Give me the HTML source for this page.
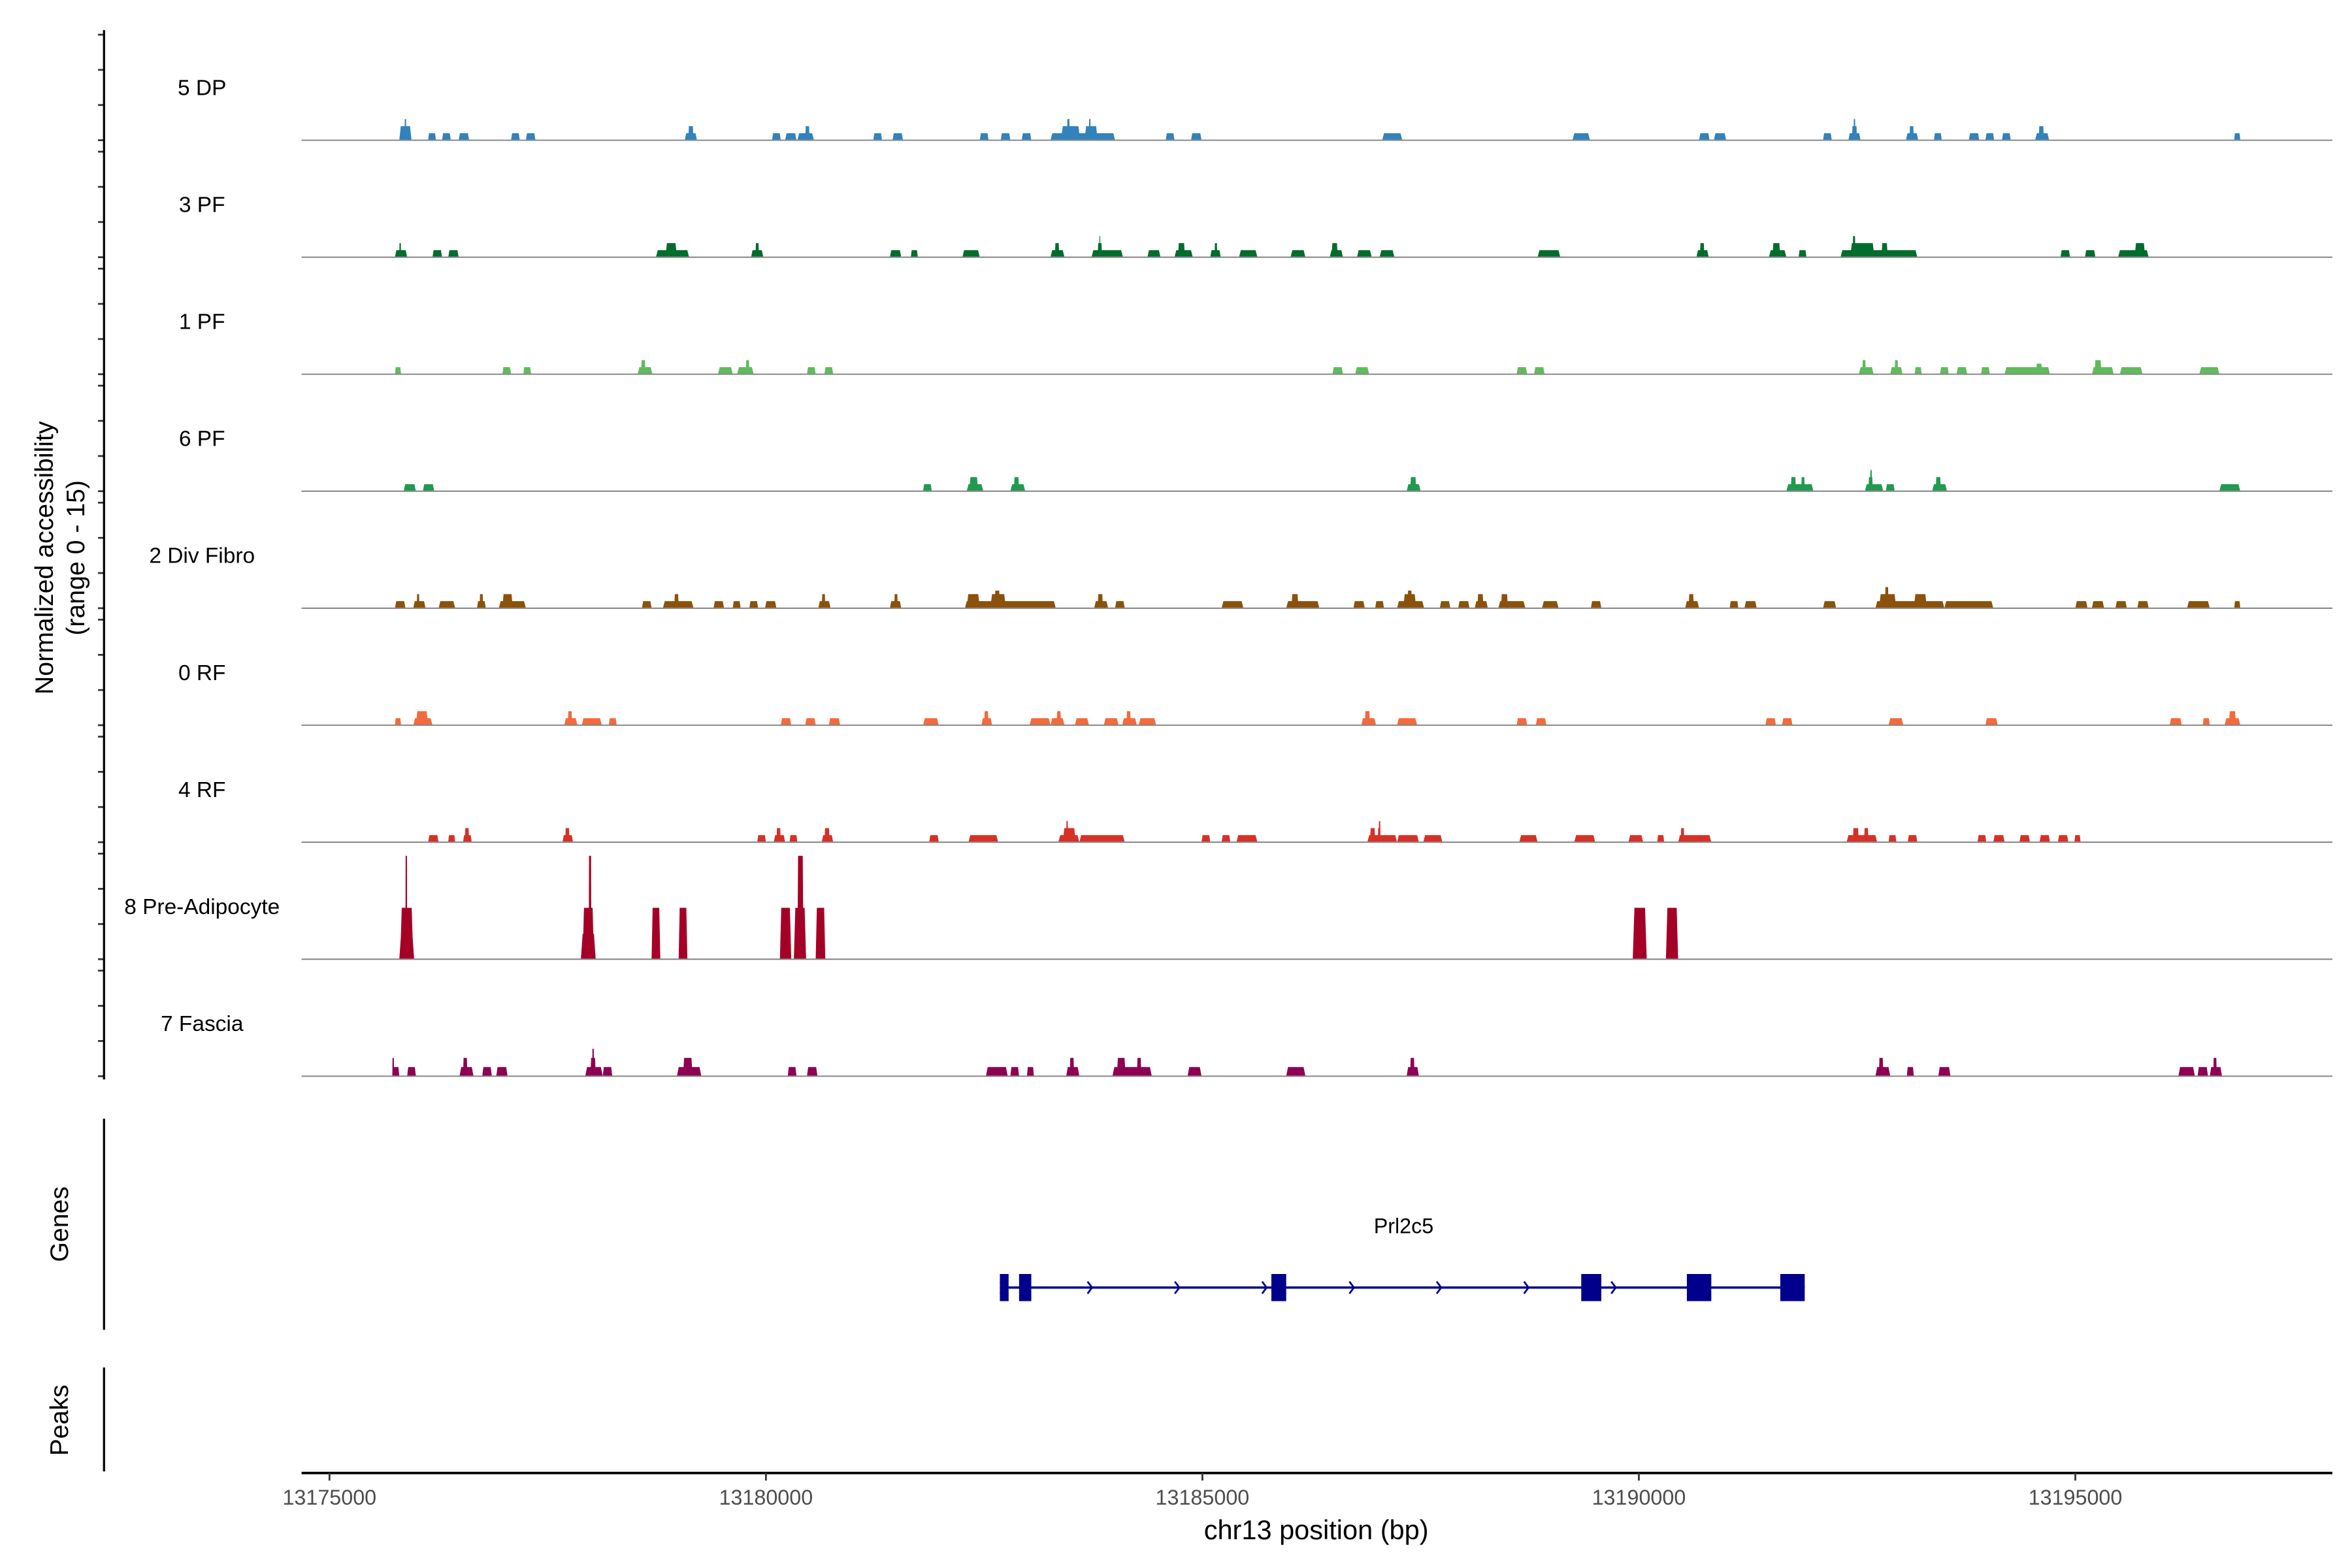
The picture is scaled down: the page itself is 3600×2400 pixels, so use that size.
<!DOCTYPE html>
<html><head><meta charset="utf-8"><style>
html,body{margin:0;padding:0;background:#fff;}
svg{display:block;font-family:"Liberation Sans",Arial,sans-serif;}
</style></head><body>
<svg id="chart" width="3600" height="2400" viewBox="0 0 1560 1040" xmlns="http://www.w3.org/2000/svg">
<g id="tracks"></g>
<g id="yaxis"></g>
<text transform="translate(35,370) rotate(-90)" text-anchor="middle" font-size="17" fill="#000">Normalized accessibility</text>
<text transform="translate(56,370) rotate(-90)" text-anchor="middle" font-size="17" fill="#000">(range 0 - 15)</text>
<line x1="69" y1="742" x2="69" y2="882" stroke="#000" stroke-width="1.4"/>
<text transform="translate(45,812) rotate(-90)" text-anchor="middle" font-size="17">Genes</text>
<line x1="69" y1="907" x2="69" y2="976" stroke="#000" stroke-width="1.4"/>
<text transform="translate(45,942) rotate(-90)" text-anchor="middle" font-size="17">Peaks</text>
<g id="gene"></g>
<g id="xaxis"></g>
<text x="873" y="1021" text-anchor="middle" font-size="18">chr13 position (bp)</text>
</svg>
<script>
// positions in kb relative to 13175000 bp
const domainKb = [-0.32, 22.945];
const tickKb = [0, 5, 10, 15, 20];
const tickLabels = ["13175000", "13180000", "13185000", "13190000", "13195000"];
const trackNames = ["5 DP","3 PF","1 PF","6 PF","2 Div Fibro","0 RF","4 RF","8 Pre-Adipocyte","7 Fascia"];
const trackColors = ["#3182bd","#006d2c","#5fbb5c","#1f9a4e","#8c510a","#f26b3c","#d73027","#a50026","#8e0152"];
const peaksDP = [[0.80,0.94,2],[0.86,0.88,3],[1.13,1.22,1],[1.29,1.39,1],[1.48,1.60,1],[2.08,2.18,1],[2.25,2.36,1],[4.07,4.21,1],[4.11,4.17,2],[5.07,5.17,1],[5.22,5.35,1],[5.36,5.55,1],[5.45,5.50,2],[6.23,6.33,1],[6.45,6.57,1],[7.45,7.55,1],[7.69,7.80,1],[7.93,8.04,1],[8.26,9.00,1],[8.38,8.60,2],[8.45,8.48,3],[8.65,8.80,2],[8.70,8.72,3],[9.58,9.68,1],[9.87,9.99,1],[12.06,12.29,1],[14.24,14.44,1],[15.69,15.81,1],[15.86,16.00,1],[17.11,17.21,1],[17.40,17.54,1],[17.44,17.50,2],[17.46,17.48,3],[18.06,18.20,1],[18.10,18.15,2],[18.38,18.47,1],[18.78,18.90,1],[18.97,19.07,1],[19.16,19.26,1],[19.54,19.70,1],[19.58,19.64,2],[21.82,21.89,1]];
const peaks3PF = [[0.75,0.89,1],[0.80,0.82,2],[1.18,1.29,1],[1.36,1.48,1],[3.74,4.12,1],[3.85,3.98,2],[4.83,4.97,1],[4.88,4.92,2],[6.42,6.55,1],[6.66,6.74,1],[7.25,7.45,1],[8.26,8.42,1],[8.31,8.36,2],[8.73,9.09,1],[8.80,8.85,2],[8.82,8.83,3],[9.37,9.52,1],[9.68,9.89,1],[9.72,9.80,2],[10.09,10.21,1],[10.14,10.17,2],[10.42,10.63,1],[11.01,11.18,1],[11.46,11.61,1],[11.48,11.55,2],[11.77,11.94,1],[12.03,12.20,1],[13.84,14.10,1],[15.66,15.80,1],[15.70,15.75,2],[16.49,16.69,1],[16.53,16.62,2],[16.83,16.92,1],[17.31,18.19,1],[17.42,17.70,2],[17.45,17.48,3],[17.78,17.85,2],[19.83,19.94,1],[20.11,20.23,1],[20.49,20.84,1],[20.68,20.80,2]];
const peaks1PF = [[0.75,0.82,1],[1.98,2.08,1],[2.22,2.31,1],[3.53,3.70,1],[3.57,3.62,2],[4.45,4.62,1],[4.67,4.86,1],[4.77,4.81,2],[5.47,5.57,1],[5.67,5.77,1],[11.49,11.61,1],[11.75,11.91,1],[13.60,13.72,1],[13.80,13.92,1],[17.52,17.69,1],[17.56,17.60,2],[17.88,18.02,1],[17.93,17.97,2],[18.16,18.24,1],[18.45,18.55,1],[18.64,18.76,1],[18.92,19.02,1],[19.19,19.71,1],[19.55,19.62,1.5],[20.19,20.44,1],[20.22,20.30,2],[20.51,20.77,1],[21.42,21.65,1]];
const peaks6PF = [[0.85,0.99,1],[1.07,1.20,1],[6.80,6.90,1],[7.30,7.49,1],[7.33,7.43,2],[7.80,7.97,1],[7.84,7.90,2],[12.34,12.50,1],[12.38,12.45,2],[16.69,17.00,1],[16.74,16.80,2],[16.86,16.90,2],[17.59,17.80,1],[17.63,17.68,2],[17.65,17.67,3],[17.83,17.93,1],[18.36,18.53,1],[18.40,18.46,2],[21.65,21.89,1]];
const peaksDiv = [[0.75,0.87,1],[0.96,1.10,1],[1.00,1.03,2],[1.25,1.44,1],[1.69,1.79,1],[1.72,1.76,2],[1.94,2.25,1],[1.98,2.10,2],[3.58,3.69,1],[3.82,4.17,1],[3.95,4.00,2],[4.40,4.52,1],[4.62,4.71,1],[4.81,4.91,1],[4.99,5.12,1],[5.60,5.74,1],[5.64,5.68,2],[6.42,6.55,1],[6.47,6.51,2],[7.28,8.32,1],[7.30,7.45,2],[7.57,7.75,2],[7.62,7.68,2.5],[8.76,8.92,1],[8.80,8.86,2],[9.00,9.11,1],[10.22,10.47,1],[10.96,11.34,1],[11.02,11.10,2],[11.73,11.86,1],[11.98,12.08,1],[12.23,12.54,1],[12.30,12.45,2],[12.35,12.40,2.5],[12.72,12.84,1],[12.93,13.06,1],[13.12,13.27,1],[13.15,13.22,2],[13.39,13.70,1],[13.42,13.50,2],[13.89,14.08,1],[14.45,14.57,1],[15.53,15.69,1],[15.57,15.63,2],[16.04,16.14,1],[16.21,16.35,1],[17.11,17.26,1],[17.71,18.50,1],[17.75,17.95,2],[17.82,17.86,3],[18.15,18.30,2],[18.50,19.06,1],[20.00,20.14,1],[20.19,20.33,1],[20.46,20.59,1],[20.71,20.84,1],[21.28,21.54,1],[21.82,21.89,1]];
const peaks0RF = [[0.75,0.82,1],[0.96,1.18,1],[0.99,1.13,2],[2.69,2.84,1],[2.73,2.78,2],[2.89,3.12,1],[3.20,3.29,1],[5.17,5.29,1],[5.45,5.57,1],[5.72,5.85,1],[6.80,6.98,1],[7.47,7.59,1],[7.50,7.55,2],[8.02,8.26,1],[8.26,8.42,1],[8.33,8.38,2],[8.54,8.70,1],[8.87,9.04,1],[9.08,9.25,1],[9.13,9.18,2],[9.27,9.47,1],[11.82,11.99,1],[11.86,11.92,2],[12.23,12.46,1],[13.60,13.72,1],[13.82,13.94,1],[16.45,16.57,1],[16.64,16.76,1],[17.86,18.03,1],[18.97,19.11,1],[21.08,21.22,1],[21.46,21.54,1],[21.71,21.89,1],[21.76,21.84,2]];
const peaks4RF = [[1.13,1.25,1],[1.36,1.44,1],[1.53,1.63,1],[1.55,1.60,2],[2.67,2.79,1],[2.70,2.75,2],[4.90,5.00,1],[5.09,5.22,1],[5.12,5.17,2],[5.27,5.36,1],[5.64,5.77,1],[5.67,5.73,2],[6.87,6.98,1],[7.32,7.66,1],[8.35,8.59,1],[8.40,8.55,2],[8.44,8.46,3],[8.59,9.11,1],[9.99,10.09,1],[10.22,10.32,1],[10.39,10.63,1],[11.89,12.23,1],[11.92,11.98,2],[12.01,12.04,2],[12.02,12.04,3],[12.23,12.48,1],[12.53,12.75,1],[13.63,13.84,1],[14.26,14.50,1],[14.88,15.05,1],[15.21,15.29,1],[15.45,15.83,1],[15.48,15.52,2],[17.38,17.73,1],[17.45,17.52,2],[17.58,17.63,2],[17.86,17.95,1],[18.08,18.19,1],[18.88,18.98,1],[19.06,19.19,1],[19.36,19.48,1],[19.59,19.71,1],[19.80,19.92,1],[19.99,20.06,1]];
const peaksPreAd = [[0.80,0.97,3.6],[0.81,0.96,7.3],[0.87,0.89,14.7],[2.88,3.05,3.6],[2.90,3.03,7.3],[2.97,3.00,14.7],[3.69,3.79,7.3],[4.00,4.10,7.3],[5.16,5.29,7.3],[5.32,5.46,7.3],[5.36,5.43,14.7],[5.57,5.68,7.3],[14.93,15.09,7.3],[15.31,15.45,7.3]];
const peaksFascia = [[0.72,0.80,1.3],[0.72,0.74,2.6],[0.89,0.99,1.3],[1.49,1.65,1.3],[1.53,1.58,2.6],[1.75,1.86,1.3],[1.91,2.04,1.3],[2.93,3.13,1.3],[2.99,3.05,2.6],[3.01,3.03,3.9],[3.13,3.24,1.3],[3.98,4.26,1.3],[4.05,4.16,2.6],[5.25,5.35,1.3],[5.47,5.59,1.3],[7.52,7.77,1.3],[7.80,7.90,1.3],[7.99,8.07,1.3],[8.44,8.59,1.3],[8.48,8.53,2.6],[8.97,9.42,1.3],[9.02,9.12,2.6],[9.25,9.30,2.6],[9.83,9.99,1.3],[10.96,11.18,1.3],[12.34,12.48,1.3],[12.38,12.43,2.6],[17.71,17.88,1.3],[17.75,17.80,2.6],[18.07,18.15,1.3],[18.43,18.57,1.3],[21.18,21.37,1.3],[21.40,21.52,1.3],[21.54,21.68,1.3],[21.58,21.62,2.6]];
const exonsKb = [[7.68,7.78],[7.90,8.04],[10.79,10.96],[14.34,14.57],[15.55,15.83],[16.62,16.90]];
const geneStartKb = 7.68;
const geneEndKb = 16.90;
const geneName = "Prl2c5";

const allPeaks = [peaksDP,peaks3PF,peaks1PF,peaks6PF,peaksDiv,peaks0RF,peaks4RF,peaksPreAd,peaksFascia];
const NS = "http://www.w3.org/2000/svg";
const X0 = 200, X1 = 1547;
function xs(kb){ return X0 + (kb - domainKb[0]) / (domainKb[1] - domainKb[0]) * (X1 - X0); }
const baseline0 = 93, trackStep = 77.6, trackH = 70, yMax = 15;
function ys(i, v){ return baseline0 + i*trackStep - v / yMax * trackH; }
function mk(tag, attrs, parent){ const e = document.createElementNS(NS, tag); for (const k in attrs) e.setAttribute(k, attrs[k]); parent.appendChild(e); return e; }

const tracksG = document.getElementById('tracks');
const yAxisG = document.getElementById('yaxis');
allPeaks.forEach((peaks, i) => {
  const g = mk('g', {}, tracksG);
  
  
  const lab = mk('text', {x:134, y: ys(i,0) - 30, 'text-anchor':'middle', 'font-size':14.5, fill:'#000'}, g);
  
  
  lab.textContent = trackNames[i];
  peaks.forEach(p => {
    const a = xs(p[0]), b = xs(p[1]), w = b - a, s = Math.min(w*0.12, 1.2);
    const y0 = ys(i,0), y1 = ys(i,p[2]);
    const poly = mk('polygon', {points: `${a},${y0} ${a+s},${y1} ${b-s},${y1} ${b},${y0}`, fill: trackColors[i]}, g);
    
    
  });
  const bl = mk('line', {x1:X0, x2:X1, y1:ys(i,0), y2:ys(i,0), stroke:'#8a8a8a', 'stroke-width':0.9}, g);
  
  
  [0,5,10,15].forEach(v => {
    const t = mk('line', {x1:65, x2:69, y1:ys(i,v), y2:ys(i,v), stroke:'#333', 'stroke-width':1.2}, yAxisG);
    
    
  });
});
const ya = mk('line', {x1:69, x2:69, y1:20, y2:716, stroke:'#000', 'stroke-width':1.4}, yAxisG);



// gene
const geneG = document.getElementById('gene');
const gy = 854;
const gl = mk('line', {x1:xs(geneStartKb), x2:xs(geneEndKb), y1:gy, y2:gy, stroke:'#00008b', 'stroke-width':1.5}, geneG);


for (let k = geneStartKb + 0.03; k < geneEndKb - 0.3; k += 1.0) {
  const cx = xs(k);
  const ch = mk('polyline', {points:`${cx-1.5},${gy-4} ${cx+1.5},${gy} ${cx-1.5},${gy+4}`, fill:'none', stroke:'#00008b', 'stroke-width':1.2}, geneG);
  
  
}
exonsKb.forEach(e => {
  const r = mk('rect', {x:xs(e[0]), y:gy-9, width:xs(e[1])-xs(e[0]), height:18, fill:'#00008b'}, geneG);
  
  
});
const gt = mk('text', {x:931, y:818, 'text-anchor':'middle', 'font-size':14}, geneG);


gt.textContent = geneName;

// x axis
const xG = document.getElementById('xaxis');
const xl = mk('line', {x1:X0, x2:X1, y1:977, y2:977, stroke:'#000', 'stroke-width':1.6}, xG);


tickKb.forEach((k, j) => {
  const t = mk('line', {x1:xs(k), x2:xs(k), y1:977, y2:982, stroke:'#333', 'stroke-width':1.2}, xG);
  
  
  const tl = mk('text', {x:xs(k), y:998, 'text-anchor':'middle', 'font-size':14, fill:'#4d4d4d'}, xG);
  
  
  tl.textContent = tickLabels[j];
});
</script>
</body></html>
